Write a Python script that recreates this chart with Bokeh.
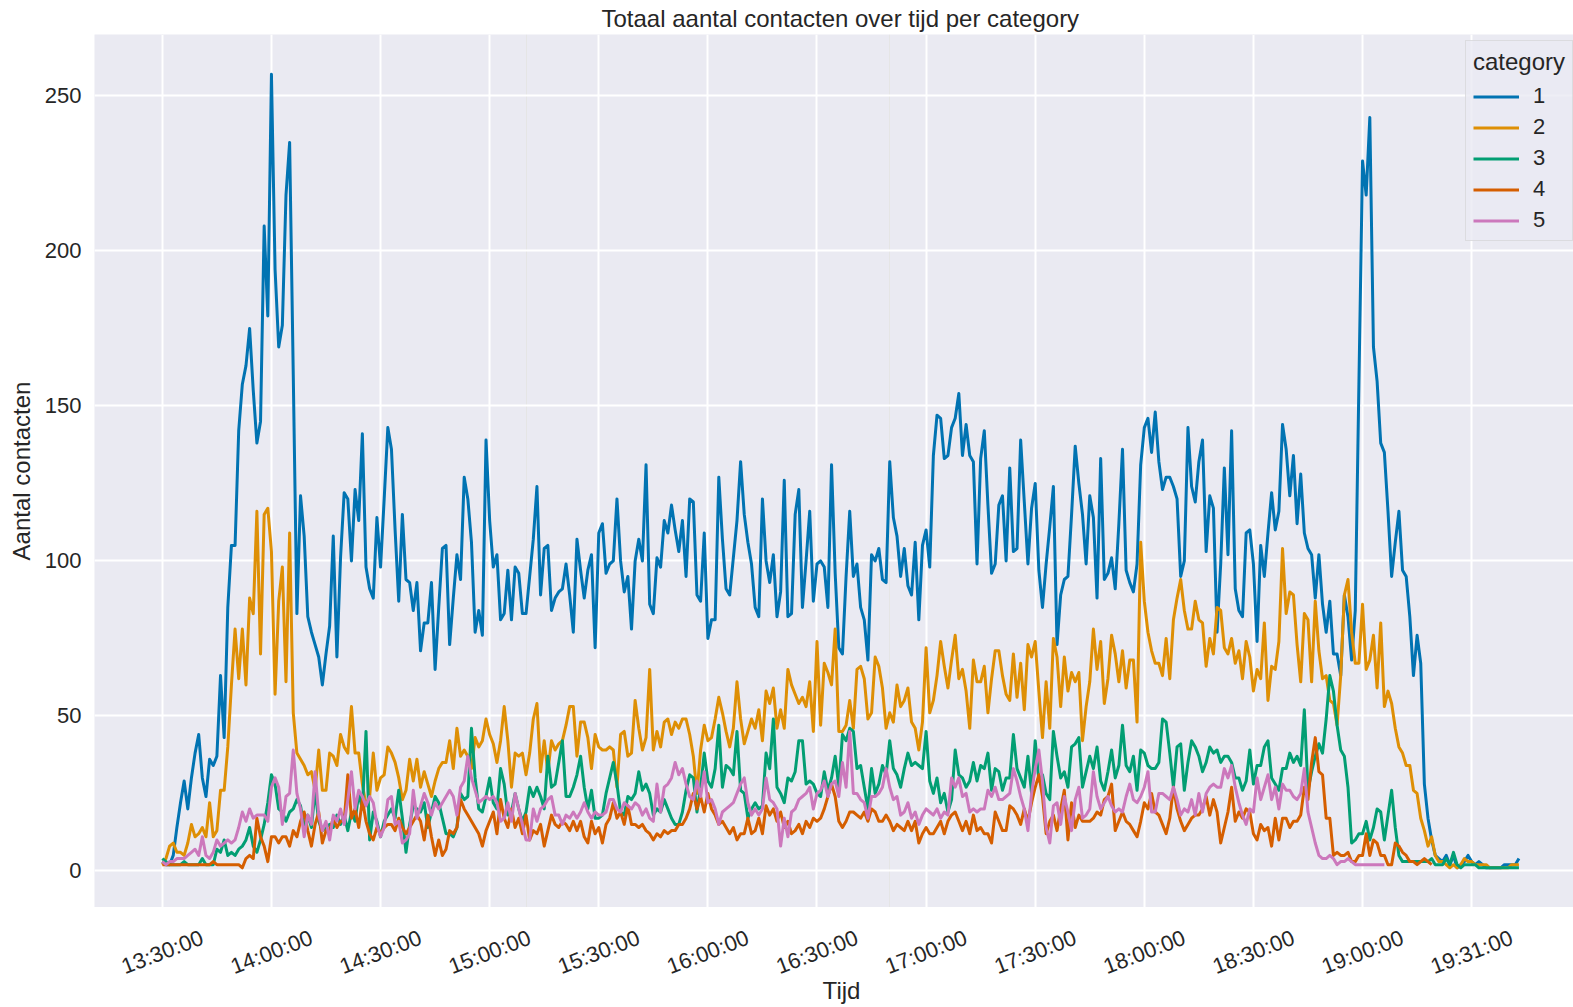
from bokeh.plotting import figure
from bokeh.layouts import column
from bokeh.models import Range1d, FixedTicker, Legend, LegendItem, ColumnDataSource, LabelSet, Label, Grid
from bokeh.core.properties import value
from bokeh.embed import file_html
from bokeh.resources import INLINE

# ---------------- data ----------------
tick_labels = ["13:30:00", "14:00:00", "14:30:00", "15:00:00", "15:30:00", "16:00:00", "16:30:00",
               "17:00:00", "17:30:00", "18:00:00", "18:30:00", "19:00:00", "19:31:00"]
tick_index = [0, 30, 60, 90, 120, 150, 180, 210, 240, 270, 300, 330, 360]
y_ticks = [0, 50, 100, 150, 200, 250]
categories = ["1", "2", "3", "4", "5"]

cat1 = [3, 2, 2, 5, 14, 22, 29, 20, 30, 38, 44, 30, 24, 36, 34, 37, 63, 43, 85, 105, 105, 142, 157, 163, 175, 155, 138, 145, 208, 179,
        257, 194, 169, 176, 218, 235, 160, 83, 121, 108, 82, 77, 73, 69, 60, 70, 79, 108, 69, 101, 122, 120, 100, 123, 113, 141, 98, 91, 88, 114,
        98, 120, 143, 136, 110, 87, 115, 94, 93, 84, 93, 71, 80, 80, 93, 65, 85, 104, 105, 73, 88, 102, 94, 127, 120, 106, 77, 84, 76, 139,
        113, 98, 102, 81, 83, 97, 81, 98, 96, 83, 83, 95, 107, 124, 89, 104, 105, 84, 88, 90, 91, 99, 89, 77, 107, 97, 88, 97, 102, 72,
        109, 112, 96, 99, 100, 120, 100, 90, 95, 78, 100, 107, 100, 131, 86, 83, 101, 98, 113, 109, 118, 110, 103, 113, 95, 120, 119, 89, 87, 109,
        75, 81, 81, 127, 107, 91, 89, 101, 113, 132, 115, 106, 99, 85, 82, 120, 100, 93, 102, 82, 90, 126, 82, 83, 115, 123, 85, 100, 116, 87,
        99, 100, 98, 85, 131, 96, 72, 70, 95, 116, 95, 99, 85, 81, 68, 102, 100, 104, 94, 93, 132, 114, 108, 95, 104, 92, 89, 106, 81, 105,
        110, 98, 134, 147, 146, 133, 134, 143, 146, 154, 134, 144, 134, 132, 99, 133, 142, 118, 96, 99, 118, 121, 100, 130, 103, 104, 139, 119, 99, 117,
        125, 97, 85, 99, 111, 124, 73, 89, 94, 95, 115, 137, 125, 115, 99, 121, 114, 88, 133, 94, 96, 101, 91, 112, 136, 97, 93, 90, 99, 131,
        143, 146, 135, 148, 132, 123, 127, 127, 124, 120, 95, 100, 143, 124, 119, 132, 139, 103, 121, 117, 77, 99, 130, 102, 142, 91, 84, 82, 109, 110,
        99, 74, 105, 95, 109, 122, 110, 116, 144, 136, 121, 134, 112, 128, 109, 104, 102, 88, 102, 86, 77, 87, 70, 70, 63, 89, 82, 68, 84, 157,
        229, 218, 243, 169, 158, 138, 135, 116, 95, 106, 116, 97, 95, 82, 63, 76, 67, 28, 17, 10, 5, 4, 3, 5, 2, 5, 1, 2, 3, 5,
        3, 2, 3, 2, 1, 1, 1, 1, 1, 2, 2, 2, 2, 4]

cat2 = [2, 4, 8, 9, 6, 6, 5, 9, 15, 11, 12, 14, 11, 22, 11, 13, 26, 26, 40, 60, 78, 62, 78, 60, 88, 83, 116, 70, 115, 117,
        103, 57, 87, 98, 61, 109, 51, 38, 36, 34, 31, 32, 26, 39, 26, 26, 38, 37, 34, 44, 40, 38, 53, 38, 38, 28, 21, 24, 38, 26,
        30, 31, 40, 38, 35, 30, 23, 26, 36, 29, 36, 27, 32, 28, 24, 29, 33, 35, 35, 42, 33, 46, 37, 39, 37, 33, 43, 40, 42, 49,
        44, 41, 35, 42, 53, 42, 27, 38, 37, 38, 31, 38, 49, 54, 32, 42, 32, 42, 39, 41, 42, 47, 53, 53, 37, 48, 48, 43, 33, 44,
        40, 39, 39, 40, 39, 27, 44, 45, 37, 38, 55, 46, 39, 43, 65, 39, 45, 40, 48, 49, 44, 48, 46, 49, 49, 44, 37, 25, 39, 47,
        42, 43, 49, 56, 51, 45, 40, 46, 61, 49, 41, 45, 49, 46, 52, 42, 58, 54, 59, 46, 52, 46, 65, 60, 57, 54, 56, 53, 61, 45,
        74, 47, 67, 64, 60, 78, 45, 45, 47, 55, 46, 65, 66, 62, 49, 51, 69, 66, 59, 46, 51, 48, 60, 53, 55, 59, 48, 46, 39, 48,
        72, 51, 55, 63, 74, 66, 59, 68, 76, 62, 65, 58, 46, 68, 61, 61, 66, 51, 62, 71, 71, 63, 57, 55, 70, 56, 67, 52, 73, 69,
        74, 58, 43, 61, 46, 75, 69, 53, 69, 58, 64, 61, 64, 42, 53, 61, 78, 65, 74, 54, 62, 76, 70, 61, 71, 59, 68, 68, 48, 106,
        87, 77, 71, 67, 67, 63, 75, 62, 81, 88, 94, 84, 78, 78, 87, 81, 80, 66, 75, 70, 85, 84, 72, 70, 75, 67, 71, 62, 74, 69,
        58, 65, 62, 80, 55, 66, 65, 74, 104, 83, 90, 89, 73, 61, 83, 81, 61, 87, 71, 62, 63, 55, 54, 47, 63, 89, 94, 77, 67, 67,
        86, 65, 68, 76, 59, 80, 53, 58, 54, 46, 40, 38, 34, 34, 26, 25, 17, 13, 8, 11, 5, 3, 3, 2, 1, 2, 1, 2, 4, 3,
        3, 2, 2, 2, 2, 1, 1, 1, 1, 1, 1, 2, 2, 2]

cat3 = [4, 3, 2, 2, 2, 2, 3, 2, 2, 2, 2, 4, 2, 2, 2, 7, 6, 10, 5, 6, 5, 7, 8, 10, 14, 8, 6, 10, 15, 22,
        31, 28, 20, 19, 16, 19, 20, 23, 21, 14, 18, 14, 26, 16, 13, 14, 15, 14, 18, 15, 18, 13, 19, 16, 25, 20, 45, 10, 19, 16,
        11, 16, 18, 20, 17, 26, 17, 6, 15, 21, 20, 19, 22, 14, 19, 24, 22, 17, 12, 12, 11, 14, 25, 23, 24, 46, 30, 20, 19, 24,
        30, 22, 20, 33, 28, 18, 19, 25, 20, 16, 19, 27, 24, 27, 24, 20, 37, 27, 28, 35, 42, 24, 24, 27, 31, 37, 27, 20, 26, 17,
        17, 18, 25, 30, 35, 28, 19, 18, 24, 23, 25, 32, 26, 28, 25, 18, 20, 19, 23, 20, 17, 15, 15, 19, 26, 31, 30, 19, 27, 38,
        29, 27, 33, 47, 27, 34, 33, 31, 45, 26, 25, 17, 20, 22, 20, 21, 38, 33, 49, 27, 25, 22, 30, 29, 32, 42, 42, 28, 29, 28,
        25, 24, 32, 26, 30, 37, 27, 44, 42, 46, 45, 33, 34, 27, 20, 33, 25, 28, 34, 31, 42, 33, 31, 27, 33, 38, 34, 35, 34, 33,
        45, 29, 25, 30, 22, 25, 19, 23, 39, 31, 30, 27, 29, 35, 29, 34, 33, 38, 26, 33, 32, 26, 30, 30, 44, 33, 30, 27, 37, 25,
        42, 29, 31, 25, 23, 45, 37, 30, 32, 27, 40, 41, 43, 27, 32, 37, 33, 40, 29, 26, 32, 39, 30, 34, 47, 34, 32, 37, 26, 39,
        38, 34, 33, 33, 35, 49, 48, 38, 27, 40, 41, 26, 35, 42, 40, 37, 32, 35, 40, 38, 39, 35, 37, 37, 35, 30, 30, 26, 29, 39,
        28, 34, 34, 40, 42, 30, 28, 26, 33, 33, 38, 35, 37, 34, 52, 26, 32, 37, 41, 38, 49, 63, 58, 47, 39, 37, 27, 9, 10, 12,
        12, 16, 10, 14, 20, 19, 10, 18, 26, 14, 5, 3, 3, 3, 3, 3, 3, 3, 3, 4, 2, 2, 2, 4, 2, 6, 2, 1, 2, 2,
        2, 2, 1, 1, 1, 1, 1, 1, 1, 1, 1, 1, 1, 1]

cat4 = [2, 2, 2, 2, 2, 2, 2, 2, 2, 2, 2, 2, 2, 2, 3, 2, 2, 2, 2, 2, 2, 2, 1, 4, 5, 4, 17, 11, 8, 3,
        11, 11, 9, 11, 11, 8, 13, 11, 16, 19, 13, 8, 15, 19, 9, 13, 13, 17, 14, 16, 16, 31, 17, 20, 14, 23, 16, 12, 10, 14,
        12, 14, 15, 15, 13, 17, 14, 12, 14, 16, 18, 16, 10, 18, 11, 5, 10, 5, 7, 13, 12, 14, 23, 20, 18, 16, 14, 12, 8, 13,
        16, 19, 12, 23, 17, 14, 20, 14, 17, 12, 18, 10, 13, 12, 15, 8, 13, 18, 15, 14, 16, 15, 13, 16, 13, 16, 11, 9, 16, 12,
        14, 9, 15, 17, 22, 17, 19, 15, 21, 15, 15, 14, 15, 13, 12, 10, 12, 11, 13, 12, 13, 13, 15, 15, 17, 20, 25, 20, 24, 19,
        25, 20, 18, 15, 16, 14, 12, 14, 10, 12, 12, 17, 12, 13, 17, 12, 21, 18, 20, 16, 19, 14, 16, 12, 13, 15, 12, 16, 14, 17,
        16, 17, 20, 24, 28, 24, 16, 14, 16, 19, 19, 18, 17, 19, 16, 20, 19, 16, 16, 18, 16, 13, 15, 14, 13, 16, 13, 16, 9, 12,
        14, 12, 12, 14, 16, 12, 16, 18, 19, 16, 13, 16, 12, 18, 13, 14, 12, 12, 9, 19, 16, 13, 13, 21, 20, 18, 15, 20, 16, 22,
        27, 31, 24, 12, 16, 18, 13, 20, 26, 10, 22, 14, 18, 16, 16, 16, 17, 19, 18, 23, 24, 28, 13, 16, 19, 16, 15, 13, 11, 16,
        22, 20, 25, 19, 18, 15, 12, 17, 27, 20, 16, 13, 15, 17, 18, 18, 20, 24, 18, 23, 19, 9, 14, 19, 27, 16, 19, 17, 20, 19,
        12, 10, 15, 13, 14, 8, 17, 10, 17, 17, 14, 16, 16, 18, 27, 23, 35, 43, 32, 31, 17, 17, 5, 6, 5, 5, 6, 3, 3, 5,
        5, 12, 5, 10, 9, 5, 5, 2, 2, 9, 8, 6, 5, 3, 3, 2, 3, 4, 3, 2]

cat5 = [3, 2, 3, 3, 4, 4, 4, 5, 6, 7, 5, 11, 5, 4, 6, 10, 8, 9, 10, 9, 10, 14, 19, 16, 20, 17, 18, 18, 18, 16,
        27, 30, 27, 15, 24, 25, 39, 25, 20, 11, 18, 15, 32, 18, 13, 16, 10, 18, 16, 20, 15, 23, 32, 20, 26, 24, 21, 24, 22, 15,
        11, 14, 23, 24, 15, 16, 9, 10, 12, 26, 17, 21, 25, 22, 18, 22, 20, 22, 24, 26, 24, 18, 27, 29, 37, 30, 26, 22, 23, 24,
        23, 24, 22, 16, 17, 22, 16, 25, 20, 15, 10, 10, 20, 16, 20, 21, 23, 24, 18, 18, 15, 18, 17, 19, 17, 19, 22, 19, 17, 19,
        18, 18, 19, 23, 23, 20, 19, 22, 21, 20, 22, 21, 18, 20, 17, 16, 28, 19, 27, 28, 30, 35, 31, 33, 28, 24, 23, 29, 24, 32,
        22, 23, 20, 15, 19, 20, 21, 22, 25, 28, 30, 22, 18, 20, 18, 20, 30, 23, 22, 20, 8, 17, 11, 19, 20, 23, 24, 25, 27, 20,
        25, 26, 29, 24, 28, 29, 24, 35, 27, 45, 25, 25, 23, 22, 17, 24, 24, 25, 27, 33, 27, 23, 24, 18, 19, 22, 17, 19, 15, 18,
        20, 19, 18, 20, 17, 19, 18, 30, 27, 30, 24, 25, 19, 20, 19, 20, 20, 26, 24, 27, 23, 23, 24, 25, 33, 29, 24, 20, 13, 25,
        33, 39, 29, 14, 9, 21, 22, 15, 24, 19, 13, 23, 27, 17, 18, 20, 32, 24, 20, 22, 24, 21, 19, 20, 19, 24, 28, 23, 22, 24,
        27, 32, 19, 19, 25, 25, 24, 23, 27, 23, 18, 20, 19, 23, 18, 25, 19, 25, 27, 28, 27, 27, 33, 30, 34, 27, 22, 18, 15, 20,
        19, 30, 23, 27, 31, 23, 27, 20, 28, 26, 26, 24, 23, 25, 33, 19, 14, 9, 5, 4, 4, 5, 4, 2, 3, 3, 4, 3, 2, 2,
        2, 2, 2, 2, 2, 2, 2]

series = [cat1, cat2, cat3, cat4, cat5]
colors = ["#0173b2", "#de8f05", "#029e73", "#d55e00", "#cc78bc"]

# ---------------- layout constants ----------------
FONT = "Liberation Sans"
TXT = "#262626"
W = 1573
H_MAIN, H_BOT = 907, 100
ML, MT = 94, 34
FW = W - ML
px_per_idx = 3.637
x0 = -18.65
xr = Range1d(x0, x0 + FW / px_per_idx)

# ---------------- main plot ----------------
p = figure(width=W, height=H_MAIN, output_backend="svg", toolbar_location=None,
           x_range=xr, y_range=Range1d(-11.8, 269.8), x_axis_location=None,
           title="Totaal aantal contacten over tijd per category")
p.min_border_left, p.min_border_right, p.min_border_top, p.min_border_bottom = ML, 0, MT, 0
p.background_fill_color = "#EAEAF2"
p.border_fill_color = "white"
p.outline_line_color = None

p.title.text_font = FONT
p.title.text_font_size = "24px"
p.title.text_font_style = "normal"
p.title.text_color = TXT
p.title.align = "left"
p.title.offset = 507
p.title.standoff = 5

p.add_layout(Grid(dimension=0, ticker=FixedTicker(ticks=tick_index),
                  grid_line_color="white", grid_line_width=2))
p.yaxis.ticker = FixedTicker(ticks=y_ticks)
p.ygrid.grid_line_color = "white"
p.ygrid.grid_line_width = 2
ax = p.yaxis[0]
ax.axis_line_color = None
ax.major_tick_line_color = None
ax.minor_tick_line_color = None
ax.major_tick_out = 0
ax.major_tick_in = 0
ax.major_label_text_font = FONT
ax.major_label_text_font_size = "22px"
ax.major_label_text_color = TXT
ax.major_label_standoff = 13
ax.axis_label = "Aantal contacten"
ax.axis_label_text_font = FONT
ax.axis_label_text_font_size = "24px"
ax.axis_label_text_font_style = "normal"
ax.axis_label_text_color = TXT
ax.axis_label_standoff = 7

renderers = []
for vals, c in zip(series, colors):
    src = ColumnDataSource(dict(x=list(range(len(vals))), y=vals))
    r = p.line("x", "y", source=src, line_color=c, line_width=3, line_join="round")
    renderers.append(r)

legend = Legend(items=[LegendItem(label=c, renderers=[r]) for c, r in zip(categories, renderers)],
                title="category", location=(1371, 666))
legend.title_text_font = FONT
legend.title_text_font_size = "24px"
legend.title_text_font_style = "normal"
legend.title_text_color = TXT
legend.title_standoff = 7
legend.label_text_font = FONT
legend.label_text_font_size = "22px"
legend.label_text_color = TXT
legend.glyph_width = 46
legend.glyph_height = 25
legend.label_standoff = 14
legend.spacing = 5
legend.padding = 7
legend.margin = 0
legend.background_fill_color = "#EAEAF2"
legend.background_fill_alpha = 0.8
legend.border_line_color = "#cccccc"
legend.border_line_width = 1
p.add_layout(legend)

# ---------------- x tick labels + x axis label strip (shares the x scale) ----------------
pb = figure(width=W, height=H_BOT, output_backend="svg", toolbar_location=None,
            x_range=xr, y_range=Range1d(H_BOT, 0), x_axis_location=None, y_axis_location=None)
pb.min_border_left, pb.min_border_right, pb.min_border_top, pb.min_border_bottom = ML, 0, 0, 0
pb.background_fill_color = "white"
pb.border_fill_color = "white"
pb.outline_line_color = None
pb.grid.visible = False

tick_src = ColumnDataSource(dict(x=tick_index, y=[44.5] * len(tick_index), text=tick_labels))
pb.add_layout(LabelSet(x="x", y="y", text="text", source=tick_src,
                       angle=21, angle_units="deg", text_align="center", text_baseline="middle",
                       text_font=value(FONT), text_font_size=value("22px"), text_color=TXT))
pb.add_layout(Label(x=747, y=83, x_units="screen", text="Tijd",
                    text_align="center", text_baseline="alphabetic", text_font=FONT,
                    text_font_size="24px", text_color=TXT))

layout = column(p, pb, spacing=0)
open("out.html", "w").write(file_html(layout, INLINE))
